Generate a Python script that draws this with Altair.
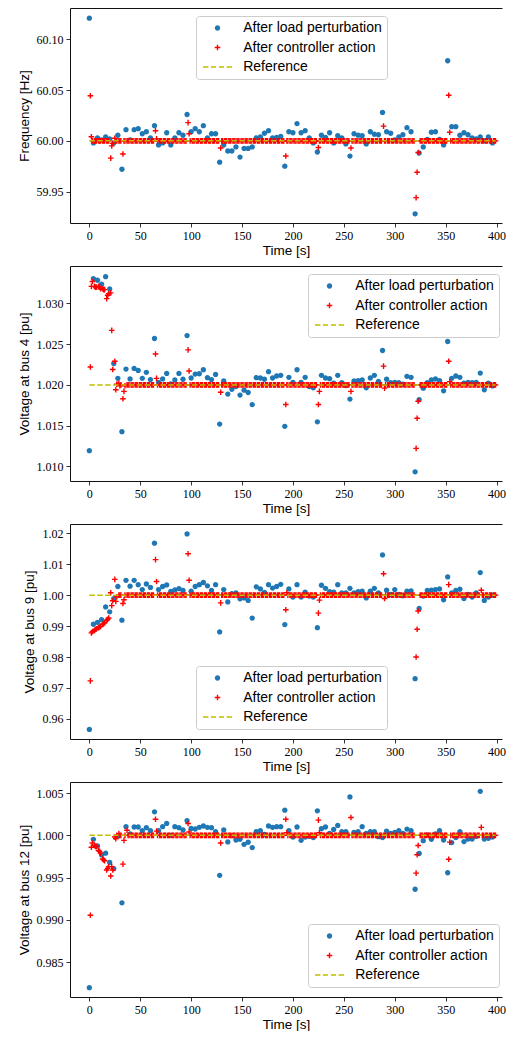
import altair as alt
import pandas as pd

TITLE_FONT = "Liberation Sans, Arial, sans-serif"
TICK_FONT = "Liberation Serif, Times New Roman, serif"

# ---------------- time grids ----------------
t_blue = list(range(0, 400, 4))                       # load perturbations
t_red = [t for t in range(1, 400) if t % 4 != 0]      # controller steps
x_ticks = [0, 50, 100, 150, 200, 250, 300, 350, 400]

SERIES = ["After load perturbation", "After controller action", "Reference"]

# ---------------- panel 1 : frequency ----------------
freq_blue = [
    60.121, 59.998, 60.003, 60.001, 60.004, 60.002, 59.998, 60.0055, 59.972, 60.011,
    60.001, 60.011, 60.012, 60.007, 60.009, 60.003, 60.015, 59.996, 59.998, 60.008,
    59.996, 60.003, 60.008, 60.0055, 60.026, 60.009, 60.012, 60.009, 60.015, 60.003,
    60.007, 60.007, 59.979, 59.996, 59.990, 59.990, 59.994, 59.984, 59.9925, 59.9925,
    59.994, 60.003, 60.004, 60.0075, 60.010, 60.003, 60.0035, 60.0045, 59.975, 60.009,
    60.008, 60.017, 60.008, 60.010, 60.003, 59.998, 59.989, 60.0055, 60.0035, 60.008,
    59.998, 60.005, 60.003, 59.997, 59.985, 60.007, 60.0055, 60.005, 59.997, 60.009,
    60.0065, 60.006, 60.028, 60.009, 60.0075, 60.001, 60.004, 60.006, 60.013, 60.009,
    59.928, 59.988, 59.994, 60.0015, 60.0085, 60.009, 60.0015, 59.996, 60.079, 60.014,
    60.014, 60.0055, 60.008, 60.006, 60.003, 60.002, 60.004, 60.000, 60.004, 59.998,
]
freq_red_t = [1, 2, 21, 22, 23, 25, 33, 65, 66, 97, 98, 129, 193, 225, 257, 289,
              321, 322, 323, 353, 354]
freq_red_v = [60.0445, 60.004, 59.983, 59.995, 59.9975, 60.0025, 59.987, 60.010, 60.002,
              60.018, 60.007, 59.993, 59.985, 59.9935, 59.993, 60.0145,
              59.944, 59.969, 59.9885, 60.045, 60.0085]
freq_ref = 60.0

# ---------------- panel 2 : voltage bus 4 ----------------
v4_blue = [
    1.01192, 1.03305, 1.03285, 1.03236, 1.03329, 1.03180, 1.02263, 1.02081, 1.01426, 1.02194,
    1.02073, 1.02202, 1.02178, 1.02081, 1.02154, 1.02065, 1.02570, 1.02032, 1.02073, 1.02141,
    1.02012, 1.02061, 1.02141, 1.02069, 1.02606, 1.02085, 1.02133, 1.02137, 1.02186, 1.02089,
    1.02065, 1.02129, 1.01519, 1.02048, 1.01887, 1.01947, 1.01980, 1.01875, 1.01935, 1.01907,
    1.01758, 1.02089, 1.02085, 1.02069, 1.02162, 1.02085, 1.02109, 1.02117, 1.01491, 1.02093,
    1.02032, 1.02186, 1.02032, 1.02093, 1.01980, 1.01964, 1.01547, 1.02117, 1.02085, 1.02077,
    1.02020, 1.02117, 1.02028, 1.01992, 1.01826, 1.02048, 1.02052, 1.02061, 1.01964, 1.02085,
    1.02117, 1.02044, 1.02422, 1.02069, 1.02028, 1.02032, 1.02028, 1.02008, 1.02105, 1.02093,
    1.00933, 1.01818, 1.01960, 1.02028, 1.02061, 1.02073, 1.02053, 1.01927, 1.02533, 1.02081,
    1.02109, 1.02093, 1.02020, 1.02032, 1.02028, 1.02032, 1.02145, 1.01939, 1.02020, 1.01988,
]
v4_red_t = [1, 2, 3, 5, 6, 7, 9, 10, 11, 13, 14, 15, 17, 18, 19, 21, 22, 23, 25, 26, 27,
            29, 30, 33, 34, 35, 65, 66, 97, 98, 129, 193, 225, 226, 257, 289, 290,
            321, 322, 323, 353, 354]
v4_red_v = [1.0222, 1.0321, 1.0327, 1.0321, 1.0320, 1.0320, 1.0321, 1.0320, 1.0318, 1.0318,
            1.0317, 1.0317, 1.0306, 1.0310, 1.0312, 1.0313, 1.0267, 1.0219, 1.0229, 1.0194,
            1.0201, 1.0202, 1.0199, 1.0183, 1.0192, 1.0199, 1.0238, 1.0208, 1.0243, 1.0217,
            1.0191, 1.0176, 1.0176, 1.0192, 1.0192, 1.0223, 1.0196,
            1.0122, 1.0159, 1.0180, 1.0229, 1.0204]
v4_ref = 1.02

# ---------------- panel 3 : voltage bus 9 ----------------
v9_blue = [
    0.9566, 0.9906, 0.9912, 0.9921, 0.9962, 0.9946, 0.9989, 1.0028, 0.9919, 1.0048,
    1.0029, 1.0048, 1.0034, 1.0018, 1.0036, 1.0025, 1.0168, 1.0018, 1.0028, 1.0033,
    1.0012, 1.0017, 1.0021, 1.0015, 1.0198, 1.0013, 1.0028, 1.0034, 1.0041, 1.0030,
    1.0015, 1.0034, 0.9881, 1.0018, 0.9978, 1.0005, 1.0007, 0.9988, 0.9991, 0.9983,
    0.9926, 1.0027, 1.0020, 1.0009, 1.0034, 1.0023, 1.0028, 1.0035, 0.9905, 1.0020,
    0.9994, 1.0034, 0.9994, 1.0010, 0.9997, 0.9994, 0.9895, 1.0032, 1.0022, 1.0011,
    1.0010, 1.0034, 1.0007, 1.0007, 1.0022, 1.0007, 1.0011, 1.0013, 0.9991, 1.0013,
    1.0022, 1.0007, 1.0130, 1.0016, 1.0002, 1.0018, 1.0002, 0.9998, 1.0013, 1.0014,
    0.9730, 0.9957, 0.9997, 1.0015, 1.0016, 1.0018, 1.0020, 0.9985, 1.0059, 1.0007,
    1.0015, 1.0019, 0.9989, 1.0002, 0.9994, 1.0007, 1.0073, 0.9983, 0.9994, 1.0000,
]
v9_red_t = [1, 2, 3, 5, 6, 7, 9, 10, 11, 13, 14, 15, 17, 18, 19, 21, 22, 23, 25, 26, 27,
            33, 34, 65, 66, 97, 98, 129, 193, 194, 225, 226, 289, 290,
            321, 322, 323, 353, 385]
v9_red_v = [0.9723, 0.9878, 0.9882, 0.9886, 0.9889, 0.9891, 0.9895, 0.9897, 0.9899, 0.9905,
            0.9908, 0.9911, 0.9918, 0.9922, 0.9926, 1.0008, 0.9966, 0.9982, 1.0051, 0.9980,
            0.9995, 0.9973, 0.9985, 1.0115, 1.0044, 1.0134, 1.0048, 0.9975, 0.9953, 1.0008,
            0.9942, 0.9984, 1.0069, 0.9989, 0.9800, 0.9890, 0.9949, 1.0034, 1.0016]
v9_ref = 1.0

# ---------------- panel 4 : voltage bus 12 ----------------
v12_blue = [
    0.98200, 0.99953, 0.99875, 0.99769, 0.99789, 0.99680, 0.99605, 0.99990, 0.99202, 1.00102,
    1.00016, 1.00098, 1.00098, 1.00055, 1.00090, 1.00055, 1.00278, 1.00055, 1.00102, 1.00141,
    1.00000, 1.00102, 1.00090, 1.00063, 1.00172, 1.00082, 1.00075, 1.00094, 1.00110, 1.00094,
    1.00090, 1.00043, 0.99527, 1.00063, 0.99922, 0.99996, 0.99945, 0.99953, 0.99894, 0.99918,
    0.99855, 1.00043, 1.00055, 1.00010, 1.00110, 1.00094, 1.00102, 1.00102, 1.00297, 1.00055,
    0.99980, 1.00098, 0.99941, 0.99980, 0.99988, 0.99973, 1.00289, 1.00078, 1.00098, 1.00023,
    1.00070, 1.00117, 1.00043, 1.00043, 1.00454, 1.00035, 1.00043, 1.00102, 1.00023, 1.00043,
    1.00043, 0.99984, 0.99973, 1.00050, 1.00023, 1.00035, 1.00055, 1.00023, 1.00074, 1.00055,
    0.99363, 0.99785, 0.99937, 1.00004, 0.99953, 1.00016, 1.00055, 0.99945, 0.99558, 0.99914,
    0.99973, 1.00043, 0.99926, 0.99957, 0.99957, 0.99988, 1.00520, 0.99957, 0.99965, 0.99980,
]
v12_red_t = [1, 2, 3, 5, 6, 7, 9, 10, 11, 13, 14, 15, 17, 18, 19, 21, 22, 23, 25, 26, 29,
             33, 34, 37, 65, 66, 97, 98, 129, 193, 194, 225, 226, 257,
             321, 322, 323, 353, 354, 385]
v12_red_v = [0.99055, 0.9986, 0.9991, 0.9988, 0.9987, 0.9987, 0.9982, 0.9981, 0.9979, 0.9972,
             0.9971, 0.9970, 0.9959, 0.9961, 0.9963, 0.9952, 0.9963, 0.9959, 0.9998, 0.9996,
             1.0002, 0.9966, 0.9994, 1.0006, 1.0019, 1.0005, 1.0014, 1.0004, 0.9991, 1.0019,
             1.0003, 1.0018, 1.0003, 1.0021, 0.99554, 0.9977, 0.9988, 0.99718, 0.9992, 1.00094]
v12_ref = 1.0

# ---------------- styling ----------------
BLUE = "#1f77b4"
RED = "#ff0000"
OLIVE = "#bfbf00"
# filled symbol outlines (unit square coordinates, scaled by sqrt(size)/2)
SHAPES = [
    "M0.38,0A0.38,0.38,0,1,1,-0.38,0A0.38,0.38,0,1,1,0.38,0Z",
    "M-0.4,-0.1H-0.1V-0.4H0.1V-0.1H0.4V0.1H0.1V0.4H-0.1V0.1H-0.4Z",
    "M-2.07,-0.1H-1.3V0.1H-2.07ZM-0.95,-0.1H-0.2V0.1H-0.95Z"
    "M0.2,-0.1H0.95V0.1H0.2ZM1.3,-0.1H2.07V0.1H1.3Z",
]
COLORS = [BLUE, RED, OLIVE]

PLOT_W = 432
PLOT_H = 215
X_DOMAIN = [-19, -19 + PLOT_W / 1.018]


def panel(blue, red_t, red_v, ref, ydom, yticks, yfmt, ytitle, title_x, leg_x, leg_y):
    dev = dict(zip(red_t, red_v))
    red_vals = [dev.get(t, ref) for t in t_red]
    pts = pd.DataFrame({
        "t": t_blue + t_red,
        "v": blue + red_vals,
        "series": [SERIES[0]] * len(t_blue) + [SERIES[1]] * len(t_red),
    })
    ref_df = pd.DataFrame({"t": [0, 399], "v": [ref, ref]})

    xscale = alt.Scale(domain=X_DOMAIN, nice=False, zero=False)
    yscale = alt.Scale(domain=ydom, nice=False, zero=False)
    yenc = alt.Y("v:Q", scale=yscale,
                 axis=alt.Axis(values=yticks, format=yfmt, title=ytitle,
                               titleX=title_x, titleBaseline="alphabetic"))
    leg = alt.Legend(
        orient="none", legendX=leg_x, legendY=leg_y, title=None,
        labelFont=TITLE_FONT, labelFontSize=14, labelColor="#000", labelLimit=400,
        symbolSize=196, symbolStrokeWidth=0, symbolOffset=9.5, labelOffset=18.7,
        padding=5, rowPadding=5.5,
        fillColor="rgba(255,255,255,0.8)", strokeColor="#cccccc", cornerRadius=3,
    )
    points = alt.Chart(pts).mark_point(
        size=196, filled=True, strokeWidth=0, opacity=1
    ).encode(
        x=alt.X("t:Q", scale=xscale,
                axis=alt.Axis(values=x_ticks, title="Time [s]", format="d")),
        y=yenc,
        shape=alt.Shape("series:N", scale=alt.Scale(domain=SERIES, range=SHAPES), legend=leg),
        color=alt.Color("series:N", scale=alt.Scale(domain=SERIES, range=COLORS), legend=leg),
    )
    line = alt.Chart(ref_df).mark_line(
        color=OLIVE, strokeWidth=1.5, strokeDash=[5.5, 2.4]
    ).encode(
        x=alt.X("t:Q", scale=xscale,
                axis=alt.Axis(orient="top", labels=False, ticks=False, title=None)),
        y=yenc,
    )
    return alt.layer(points, line).resolve_axis(x="independent").properties(
        width=PLOT_W, height=PLOT_H)


LOW_LEG_Y = PLOT_H - 7 - 66
RIGHT_LEG_X = 238

p1 = panel(freq_blue, freq_red_t, freq_red_v, freq_ref, [59.919, 60.131],
           [59.95, 60.0, 60.05, 60.1], ".2f", "Frequency [Hz]", -42, 126, 8)
p2 = panel(v4_blue, v4_red_t, v4_red_v, v4_ref, [1.0082, 1.0346],
           [1.010, 1.015, 1.020, 1.025, 1.030], ".3f", "Voltage at bus 4 [pu]", -42,
           RIGHT_LEG_X, 8)
p3 = panel(v9_blue, v9_red_t, v9_red_v, v9_ref, [0.9535, 1.0230],
           [0.96, 0.97, 0.98, 0.99, 1.00, 1.01, 1.02], ".2f", "Voltage at bus 9 [pu]", -37,
           126, LOW_LEG_Y)
p4 = panel(v12_blue, v12_red_t, v12_red_v, v12_ref, [0.9809, 1.0063],
           [0.985, 0.990, 0.995, 1.000, 1.005], ".3f", "Voltage at bus 12 [pu]", -42,
           RIGHT_LEG_X, LOW_LEG_Y)

chart = alt.vconcat(
    p1, p2, p3, p4, spacing=43, bounds="flush",
    padding={"left": 9, "top": 0, "right": 0, "bottom": 0},
).resolve_scale(
    x="independent", y="independent", shape="independent", color="independent",
).resolve_legend(
    shape="independent", color="independent",
).configure(
    background="white",
).configure_view(
    strokeWidth=0,
).configure_axis(
    domain=True, domainColor="#111", domainWidth=1, grid=False,
    labelFont=TICK_FONT, labelFontSize=12, labelColor="#000", labelPadding=3,
    tickSize=4, tickColor="#000", tickWidth=0.8,
    titleFont=TITLE_FONT, titleFontSize=13.5, titleFontWeight="normal", titleColor="#000",
).configure_axisX(
    titlePadding=2,
)

chart.save("out.html", embed_options={"renderer": "svg", "actions": False})
